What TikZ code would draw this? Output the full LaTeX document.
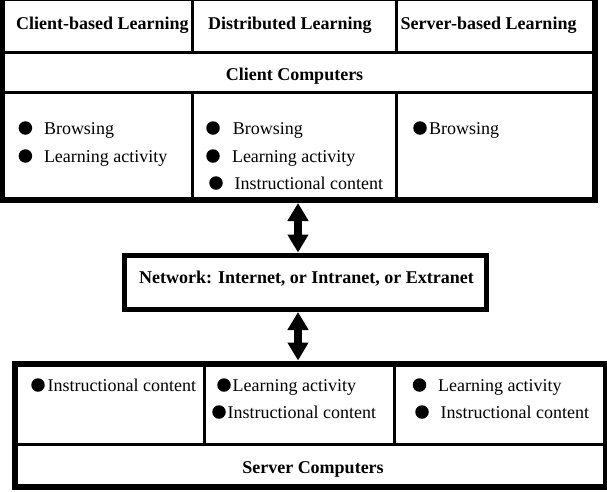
\documentclass[tikz,border=0pt]{standalone}
\usepackage{fontspec}
\setmainfont{Liberation Serif}
\usetikzlibrary{arrows.meta}
\begin{document}
\begin{tikzpicture}[x=1pt,y=-1pt,
  frame/.style={draw=black, line width=6pt, inner sep=0pt, fill=none},
  grid/.style={draw=black, line width=3pt},
  txt/.style={anchor=base west, inner sep=0pt, font=\fontsize{18}{21}\selectfont},
  hdr/.style={anchor=base west, inner sep=0pt, font=\fontsize{18}{21}\selectfont\bfseries},
  dot/.style={circle, fill=black, minimum size=13.5pt, inner sep=0pt},
  dblarrow/.style={line width=8pt, {Triangle[width=20pt,length=18pt]}-{Triangle[width=20pt,length=18pt]}}
]
\useasboundingbox (0,0) rectangle (607,491);
% client computers block
\draw[grid] (1.5,52) -- (594.5,52);
\draw[grid] (1.5,92) -- (594.5,92);
\draw[grid] (192,-2) -- (192,52) (192,92) -- (192,200);
\draw[grid] (396,-2) -- (396,52) (396,92) -- (396,200);
\node[frame, minimum width=593pt, minimum height=202pt] (client) at (298,99) {};
\node[hdr] (h1) at (16,29) {Client-based Learning};
\node[hdr] (h2) at (208,29) {Distributed Learning};
\node[hdr] (h3) at (400.5,29) {Server-based Learning};
\node[hdr, anchor=base] (cc) at (294.5,80) {Client Computers};
% client column 1
\node[dot] (d11) at (25.4,128) {};
\node[txt] (t11) at (43.8,134) {Browsing};
\node[dot] (d12) at (25.4,156) {};
\node[txt] (t12) at (43.8,162) {Learning activity};
% client column 2
\node[dot] (d21) at (213,128) {};
\node[txt] (t21) at (232.6,134) {Browsing};
\node[dot] (d22) at (213,156) {};
\node[txt] (t22) at (231.8,162) {Learning activity};
\node[dot] (d23) at (216,183) {};
\node[txt] (t23) at (234.5,189) {Instructional content};
% client column 3
\node[dot] (d31) at (420,128) {};
\node[txt] (t31) at (429,134) {Browsing};
% network
\node[frame, line width=5pt, minimum width=362pt, minimum height=54.5pt] (net) at (305.5,282.25) {};
\node[hdr, anchor=base] (nettxt) at (306.5,283) {Network: Internet, or Intranet, or Extranet};
% server computers block
\draw[grid] (15,444.5) -- (606,444.5);
\draw[grid] (204,363.5) -- (204,444.5);
\draw[grid] (394,363.5) -- (394,444.5);
\node[frame, minimum width=591pt, minimum height=123pt] (server) at (310.5,425) {};
\node[hdr, anchor=base] (sc) at (313,473) {Server Computers};
\node[dot] (s11) at (38,385) {};
\node[txt] (u11) at (47.5,391) {Instructional content};
\node[dot] (s21) at (224,385) {};
\node[txt] (u21) at (232.5,391) {Learning activity};
\node[dot] (s22) at (219,412) {};
\node[txt] (u22) at (227.5,418) {Instructional content};
\node[dot] (s31) at (419.5,385) {};
\node[txt] (u31) at (438,391) {Learning activity};
\node[dot] (s32) at (422,412) {};
\node[txt] (u32) at (440.5,418) {Instructional content};
% arrows
\coordinate (ax) at (298,0);
\draw[dblarrow] (client.south -| ax) -- (net.north -| ax);
\draw[dblarrow] (net.south -| ax) -- (server.north -| ax);
\end{tikzpicture}
\end{document}
